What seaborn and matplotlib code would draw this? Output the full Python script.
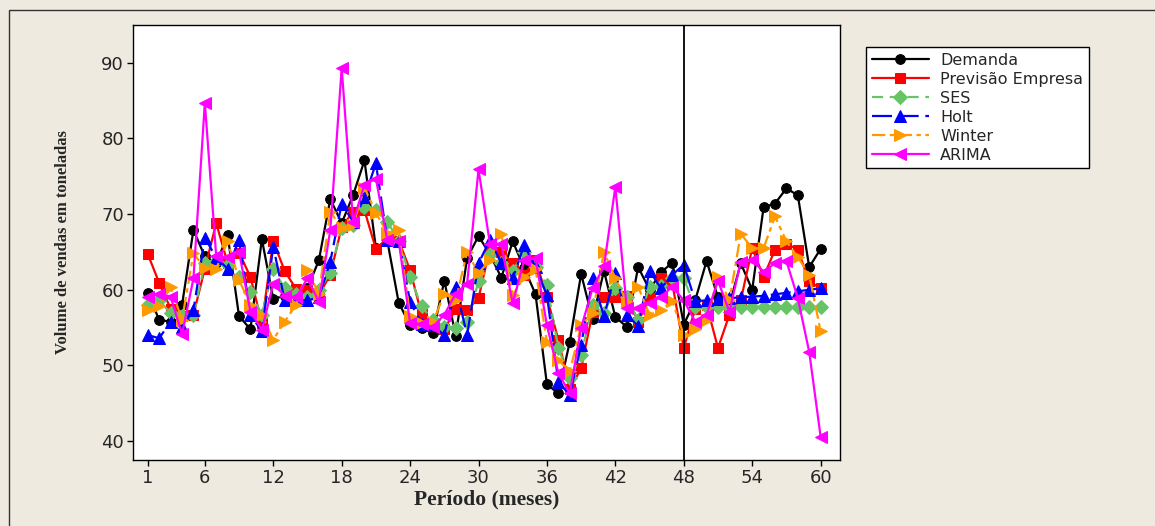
import numpy as np
import pandas as pd
import matplotlib
matplotlib.use("Agg")
import matplotlib.pyplot as plt
from matplotlib.patches import Rectangle
import seaborn as sns

periodo = list(range(1, 61))

demanda = [59.6, 56.0, 55.8, 58.0, 67.9, 64.4, 63.5, 67.2, 56.5, 54.8,
           66.7, 58.8, 59.2, 59.5, 60.2, 63.9, 72.0, 68.8, 72.5, 77.1,
           65.5, 66.5, 58.3, 55.3, 55.0, 54.3, 61.2, 53.9, 64.2, 67.1,
           64.7, 61.6, 66.4, 62.9, 59.4, 47.5, 46.3, 53.1, 62.1, 56.1,
           62.5, 56.4, 55.1, 63.0, 60.0, 62.3, 63.6, 55.4, 58.6, 63.8,
           59.0, 58.0, 63.5, 60.0, 70.9, 71.4, 73.4, 72.5, 63.0, 65.4]

empresa = [64.7, 60.9, 57.5, 56.5, 56.7, 62.8, 68.8, 63.5, 64.9, 61.7,
           55.6, 66.4, 62.5, 60.1, 60.0, 59.3, 62.0, 68.3, 70.3, 70.5,
           65.4, 66.8, 66.5, 62.6, 56.8, 55.5, 54.8, 57.4, 57.3, 58.9,
           65.5, 65.0, 63.5, 62.0, 64.0, 59.0, 53.4, 46.9, 49.6, 57.0,
           59.1, 59.1, 59.2, 55.8, 58.9, 61.6, 60.8, 52.3, 57.5, 58.0,
           52.3, 56.7, 58.6, 65.5, 61.7, 65.3, 66.1, 65.3, 61.1, 60.2]

ses = [58.0, 58.6, 56.9, 56.5, 56.7, 63.5, 63.8, 63.3, 61.7, 59.7,
       56.7, 62.7, 60.2, 59.5, 59.0, 60.0, 62.2, 68.2, 68.5, 71.0,
       70.5, 69.0, 66.5, 61.7, 57.8, 56.0, 55.1, 55.0, 55.7, 61.1,
       64.7, 63.5, 62.5, 65.0, 63.0, 60.6, 52.3, 48.3, 51.4, 58.0,
       56.9, 60.2, 59.0, 56.0, 60.4, 60.5, 61.5, 61.5, 57.7, 57.7,
       57.7, 57.7, 57.7, 57.7, 57.7, 57.7, 57.7, 57.7, 57.7, 57.7]

holt = [54.0, 53.6, 55.8, 55.1, 57.3, 66.9, 64.2, 62.8, 66.6, 56.7,
        54.5, 65.7, 58.6, 58.6, 58.6, 59.0, 63.7, 71.4, 69.0, 72.2,
        76.7, 66.6, 66.5, 58.4, 55.5, 55.3, 54.0, 60.4, 54.0, 63.5,
        66.6, 63.5, 61.5, 65.9, 63.0, 59.3, 47.8, 46.1, 52.7, 61.5,
        56.5, 62.2, 56.7, 55.2, 62.5, 60.2, 62.0, 63.3, 58.5, 58.6,
        58.8, 58.9, 59.0, 59.1, 59.2, 59.4, 59.6, 59.8, 60.0, 60.2]

winter = [57.3, 57.8, 60.4, 56.0, 64.8, 62.9, 62.8, 66.4, 61.3, 58.0,
          56.7, 53.4, 55.8, 58.0, 62.6, 59.5, 70.3, 68.2, 68.5, 73.5,
          70.2, 67.5, 67.9, 56.5, 55.6, 55.7, 59.5, 58.6, 65.0, 62.2,
          63.9, 67.4, 59.3, 61.7, 62.7, 53.1, 50.7, 49.2, 55.3, 56.9,
          65.0, 61.5, 58.4, 60.4, 56.7, 57.3, 58.5, 54.0, 54.8, 56.0,
          61.7, 58.6, 67.4, 65.5, 65.5, 69.7, 66.4, 64.3, 62.0, 54.5]

arima = [59.1, 59.5, 59.1, 54.1, 61.5, 84.7, 64.4, 64.3, 65.0, 57.1,
         54.7, 60.8, 59.2, 59.0, 61.5, 58.4, 67.9, 89.3, 69.0, 73.9,
         74.7, 66.6, 66.5, 55.6, 55.5, 55.1, 56.7, 59.5, 60.8, 75.9,
         66.1, 66.0, 58.2, 63.9, 64.2, 55.3, 49.0, 46.3, 55.0, 60.2,
         63.1, 73.6, 57.6, 57.6, 58.2, 59.1, 60.4, 58.6, 55.8, 56.7,
         61.2, 57.1, 63.7, 63.9, 62.4, 63.5, 63.8, 58.9, 51.8, 40.6]

xticks = [1, 6, 12, 18, 24, 30, 36, 42, 48, 54, 60]

sns.set_style("white")
plt.rcParams['font.family'] = ['DejaVu Sans']

bg = '#EEEAE0'
fig = plt.figure(figsize=(11.55, 5.26), dpi=100, facecolor=bg)
ax = fig.add_axes([133 / 1155, 1 - 460 / 526, 707 / 1155, 435 / 526])
ax.set_facecolor('white')

# series: (values, label, color, marker, markersize, linestyle)
series = [
    (demanda, 'Demanda', 'black', 'o', 7, '-'),
    (empresa, 'Previsão Empresa', '#FF0000', 's', 7, '-'),
    (ses, 'SES', '#66C466', 'D', 7, (0, (5, 3))),
    (holt, 'Holt', '#0000FF', '^', 8.5, (0, (9, 3))),
    (winter, 'Winter', '#FF9900', '>', 8.5, (0, (6, 2, 2, 2))),
    (arima, 'ARIMA', '#FF00FF', '<', 8.5, '-'),
]

for vals, lab, col, mk, ms, ls in series:
    sns.lineplot(x=periodo, y=vals, ax=ax, color=col, marker=mk,
                 markersize=ms, markeredgecolor=col, linewidth=1.6,
                 linestyle=ls, label=lab)

ax.axvline(48, color='black', linewidth=1.3)

ax.set_xlim(-0.3, 61.7)
ax.set_ylim(37.5, 95.0)
ax.set_xticks(xticks)
ax.set_yticks([40, 50, 60, 70, 80, 90])
ax.tick_params(axis='both', direction='out', length=4, width=1, pad=2.5,
               labelsize=13, color='black', bottom=True, left=True)
for sp in ax.spines.values():
    sp.set_color('black')
    sp.set_linewidth(1)

ax.set_xlabel('Período (meses)', family='Liberation Serif',
              fontweight='bold', fontsize=15.5, labelpad=2)
ax.set_ylabel('Volume de vendas em toneladas', family='Liberation Serif',
              fontweight='bold', fontsize=12, labelpad=22)

handles, labels = ax.get_legend_handles_labels()
ax.get_legend().remove()
leg = fig.legend(handles, labels, loc='upper left',
                 bbox_to_anchor=(866 / 1155, 1 - 47 / 526),
                 fontsize=11.5, frameon=True, fancybox=False,
                 edgecolor='black', framealpha=1, handlelength=3.6,
                 handletextpad=0.7, borderpad=0.35, labelspacing=0.25,
                 borderaxespad=0)
leg.get_frame().set_linewidth(1)

# outer frame of the graph window
fig.patches.append(Rectangle((9 / 1155, -0.02), 1.1, 1 - 10 / 526 + 0.02,
                             transform=fig.transFigure, fill=False,
                             edgecolor='#333333', linewidth=1))

fig.savefig('out.png', dpi=100, facecolor=bg)
